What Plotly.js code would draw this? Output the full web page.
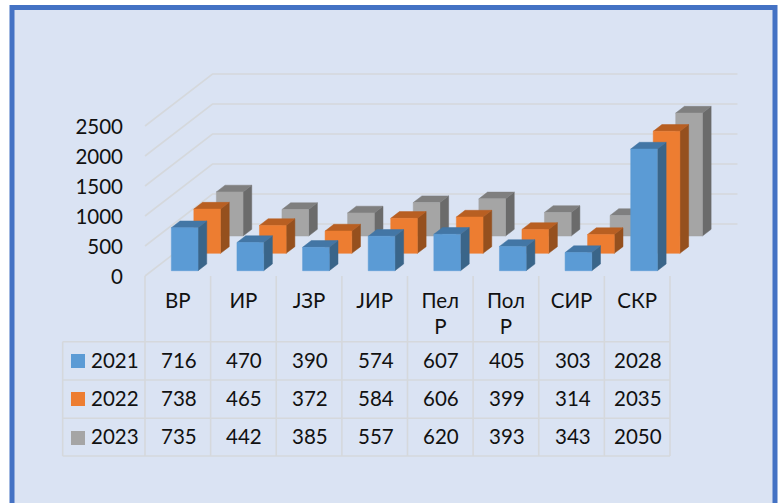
<!DOCTYPE html>
<html><head><meta charset="utf-8">
<script src="https://cdn.plot.ly/plotly-3.0.1.min.js"></script>
<style>html,body{margin:0;padding:0;background:#fff}#c{width:780px;height:503px}</style>
</head><body><div id="c"></div>
<script>
const categories = ['ВР','ИР','ЈЗР','ЈИР','Пел<br>Р','Пол<br>Р','СИР','СКР'];
const seriesNames = ['2021','2022','2023'];
const v2021 = [716,470,390,574,607,405,303,2028];
const v2022 = [738,465,372,584,606,399,314,2035];
const v2023 = [735,442,385,557,620,393,343,2050];
const seriesValues = [v2021,v2022,v2023];
const frontColors = ['#5b9bd5','#ed7d31','#a5a5a5'];
const sideColors = ['#3a6589','#95501e','#6b6b6b'];
const topColors = ['#4376a5','#b85f22','#7f7f7f'];
const valueTicks = [0,500,1000,1500,2000,2500];

const W=780,H=503,FONT='Lato, "Open Sans", sans-serif',FS=20.5,TXT='#111111',GRID='#d5d8dc';
const catPx=65.625, valPx=0.06, x0Px=177.8, y0Px=276;
const DX=67.5/catPx, DY=52/valPx;
const BARW=26.7/catPx, GAP=0.102, BARD=0.129;
const xr=[-x0Px/catPx,(W-x0Px)/catPx], yr=[(y0Px-H)/valPx,y0Px/valPx];
const py=(y)=>1-y/H;
const P=(c,d,v)=>[c+d*DX, v+d*DY];

function poly(pts){const xs=[],ys=[];pts.forEach(p=>{xs.push(p[0]);ys.push(p[1]);});xs.push(pts[0][0],null);ys.push(pts[0][1],null);return [xs,ys];}
function faceTrace(polys,color){const xs=[],ys=[];polys.forEach(p=>{const r=poly(p);xs.push(...r[0]);ys.push(...r[1]);});
  return {type:'scatter',mode:'lines',x:xs,y:ys,fill:'toself',fillcolor:color,line:{color:color,width:0.5},hoverinfo:'skip',showlegend:false};}

const traces=[];
const gx=[],gy=[];
valueTicks.forEach(v=>{[P(-0.5,0,v),P(-0.5,1,v),P(7.5,1,v)].forEach(p=>{gx.push(p[0]);gy.push(p[1]);});gx.push(null);gy.push(null);});
traces.push({type:'scatter',mode:'lines',x:gx,y:gy,line:{color:GRID,width:1.6},hoverinfo:'skip',showlegend:false});

for(let s=2;s>=0;s--){
  const d0=s/3+GAP,d1=d0+BARD,fr=[],si=[],to=[];
  seriesValues[s].forEach((v,i)=>{
    const l=i-BARW/2,r=i+BARW/2;
    fr.push([P(l,d0,0),P(r,d0,0),P(r,d0,v),P(l,d0,v)]);
    si.push([P(r,d0,0),P(r,d1,0),P(r,d1,v),P(r,d0,v)]);
    to.push([P(l,d0,v),P(r,d0,v),P(r,d1,v),P(l,d1,v)]);
  });
  traces.push(faceTrace(si,sideColors[s]),faceTrace(to,topColors[s]),faceTrace(fr,frontColors[s]));
}

const shapes=[{type:'rect',xref:'paper',yref:'paper',x0:12/W,x1:775/W,y0:-0.05,y1:py(7.5),fillcolor:'#dae3f3',line:{color:'#4472c4',width:5},layer:'below'}];
const tl={color:GRID,width:1.6};
const rowY=[341.7,380,418.3,456];
rowY.forEach(y=>shapes.push({type:'line',xref:'paper',yref:'paper',x0:62.7/W,x1:670/W,y0:py(y),y1:py(y),line:tl,layer:'below'}));
shapes.push({type:'line',xref:'paper',yref:'paper',x0:62.7/W,x1:62.7/W,y0:py(341.7),y1:py(456),line:tl,layer:'below'});
for(let i=0;i<=8;i++){const x=i-0.5;shapes.push({type:'line',xref:'x',yref:'paper',x0:x,x1:x,y0:py(276),y1:py(456),line:tl,layer:'below'});}
const rowText=[360,398,436], swatch=[354,392,431];
const annotations=[];
seriesNames.forEach((n,s)=>{
  shapes.push({type:'rect',xref:'paper',yref:'paper',x0:71/W,x1:85/W,y0:py(swatch[s]),y1:py(swatch[s]+14),fillcolor:frontColors[s],line:{width:0}});
  annotations.push({xref:'paper',yref:'paper',x:88.5/W,y:py(rowText[s]),xanchor:'left',yanchor:'middle',text:n,showarrow:false,font:{family:FONT,size:FS,color:TXT}});
  seriesValues[s].forEach((v,i)=>annotations.push({xref:'x',yref:'paper',x:i+0.015,y:py(rowText[s]),xanchor:'center',yanchor:'middle',text:String(v),showarrow:false,font:{family:FONT,size:FS,color:TXT}}));
});

const layout={width:W,height:H,margin:{l:0,r:0,t:0,b:0},paper_bgcolor:'#ffffff',plot_bgcolor:'rgba(0,0,0,0)',showlegend:false,shapes,annotations,
 xaxis:{range:xr,domain:[0,1],anchor:'free',position:py(286),side:'bottom',tickmode:'array',tickvals:categories.map((c,i)=>i),ticktext:categories,tickangle:0,ticks:'',showgrid:false,zeroline:false,showline:false,fixedrange:true,tickfont:{family:FONT,size:FS,color:TXT}},
 yaxis:{range:yr,domain:[0,1],anchor:'free',position:123/W,side:'left',tickmode:'array',tickvals:valueTicks,ticktext:valueTicks.map(String),ticks:'',ticklabelshift:1,showgrid:false,zeroline:false,showline:false,fixedrange:true,tickfont:{family:FONT,size:FS,color:TXT}}};
Plotly.newPlot('c',traces,layout,{displayModeBar:false,staticPlot:true});
</script></body></html>
